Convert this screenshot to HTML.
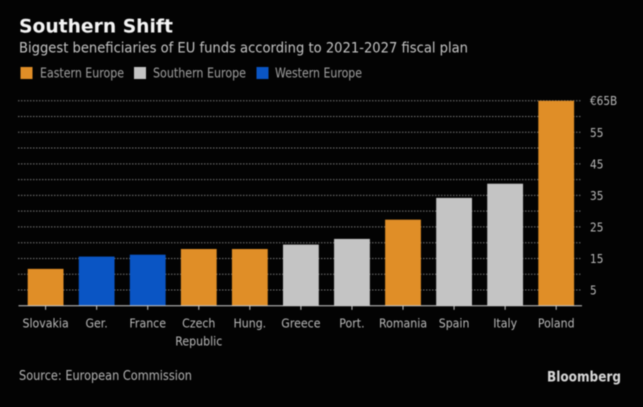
<!DOCTYPE html>
<html>
<head>
<meta charset="utf-8">
<style>
html,body{margin:0;padding:0;background:#030303;}
svg{display:block;filter:blur(0.45px);}
text{font-family:"DejaVu Sans","Liberation Sans",sans-serif;}
</style>
</head>
<body>
<svg id="chart" width="643" height="407" viewBox="0 0 643 407" xmlns="http://www.w3.org/2000/svg">
<rect x="0" y="0" width="643" height="407" fill="#030303"/>
<text x="19" y="32.5" font-size="19" font-weight="bold" fill="#f4f4f4" textLength="154" lengthAdjust="spacingAndGlyphs">Southern Shift</text>
<text x="19" y="52.5" font-size="14.5" fill="#c4c4c4" textLength="449" lengthAdjust="spacingAndGlyphs">Biggest beneficiaries of EU funds according to 2021-2027 fiscal plan</text>
<rect x="20.5" y="67" width="12" height="12" fill="#e08e27"/>
<text x="40" y="77.5" font-size="13" fill="#a0a0a0" textLength="84" lengthAdjust="spacingAndGlyphs">Eastern Europe</text>
<rect x="134" y="67" width="12" height="12" fill="#c4c4c4"/>
<text x="153" y="77.5" font-size="13" fill="#a0a0a0" textLength="93" lengthAdjust="spacingAndGlyphs">Southern Europe</text>
<rect x="256.5" y="67" width="12" height="12" fill="#0a55c4"/>
<text x="275" y="77.5" font-size="13" fill="#a0a0a0" textLength="87" lengthAdjust="spacingAndGlyphs">Western Europe</text>
<g id="plot"></g>
<text x="19" y="380" font-size="13" fill="#b4b4b4" textLength="173" lengthAdjust="spacingAndGlyphs">Source: European Commission</text>
<text x="547" y="381.5" font-size="14" font-weight="bold" fill="#d8d8d8" textLength="74" lengthAdjust="spacingAndGlyphs">Bloomberg</text>
</svg>
<script>
const categories = ["Slovakia", "Ger.", "France", "Czech|Republic", "Hung.", "Greece", "Port.", "Romania", "Spain", "Italy", "Poland"];
const values = [11.7, 15.6, 16.2, 18, 18, 19.4, 21.2, 27.3, 34.2, 38.7, 65];
const regions = ["Eastern", "Western", "Western", "Eastern", "Eastern", "Southern", "Southern", "Eastern", "Southern", "Southern", "Eastern"];
const gridValues = [5, 10, 15, 20, 25, 30, 35, 40, 45, 50, 55, 60, 65];
const tickValues = [5, 15, 25, 35, 45, 55, 65];
const regionColors = { Eastern: "#e08e27", Southern: "#c4c4c4", Western: "#0a55c4" };

const NS = "http://www.w3.org/2000/svg";
const plot = document.getElementById("plot");
const y0 = 305.8, yScale = 3.155, x0 = 45.6, pitch = 51.06, barW = 35.8;
const yAxis = v => y0 - v * yScale;
const xAxis = i => x0 + i * pitch;

function make(tag, attrs, text) {
  const el = document.createElementNS(NS, tag);
  for (const k in attrs) el.setAttribute(k, attrs[k]);
  if (text !== undefined) el.textContent = text;
  plot.appendChild(el);
  return el;
}

function narrow(el, ratio) {
  const w = el.getComputedTextLength();
  el.setAttribute("textLength", (w * ratio).toFixed(1));
  el.setAttribute("lengthAdjust", "spacingAndGlyphs");
}

gridValues.forEach(v => {
  const g = make("line", { x1: 18, x2: 582, y1: yAxis(v), y2: yAxis(v), stroke: "#757575", "stroke-width": 1, "stroke-dasharray": "1.5 1.5" });
  
  
});

values.forEach((v, i) => {
  const b = make("rect", { x: xAxis(i) - barW / 2, y: yAxis(v), width: barW, height: y0 - yAxis(v), fill: regionColors[regions[i]] });
  
  
});

const axis = make("line", { x1: 18.5, x2: 582, y1: y0, y2: y0, stroke: "#c8c8c8", "stroke-width": 1 });



categories.forEach((c, i) => {
  const t = make("line", { x1: xAxis(i), x2: xAxis(i), y1: y0, y2: y0 + 4, stroke: "#c8c8c8", "stroke-width": 1 });
  
  
  c.split("|").forEach((line, j) => {
    const l = make("text", { x: xAxis(i), y: 327.5 + j * 18, "text-anchor": "middle", "font-size": 12.5, fill: "#b8b8b8" }, line);
    
    
    narrow(l, 0.88);
  });
});

tickValues.forEach((v, i) => {
  const label = i === tickValues.length - 1 ? "€" + v + "B" : String(v);
  const l = make("text", { x: 590, y: yAxis(v) + 4.5, "font-size": 12.5, fill: "#b8b8b8" }, label);
  
  
  narrow(l, 0.84);
});
</script>
</body>
</html>
